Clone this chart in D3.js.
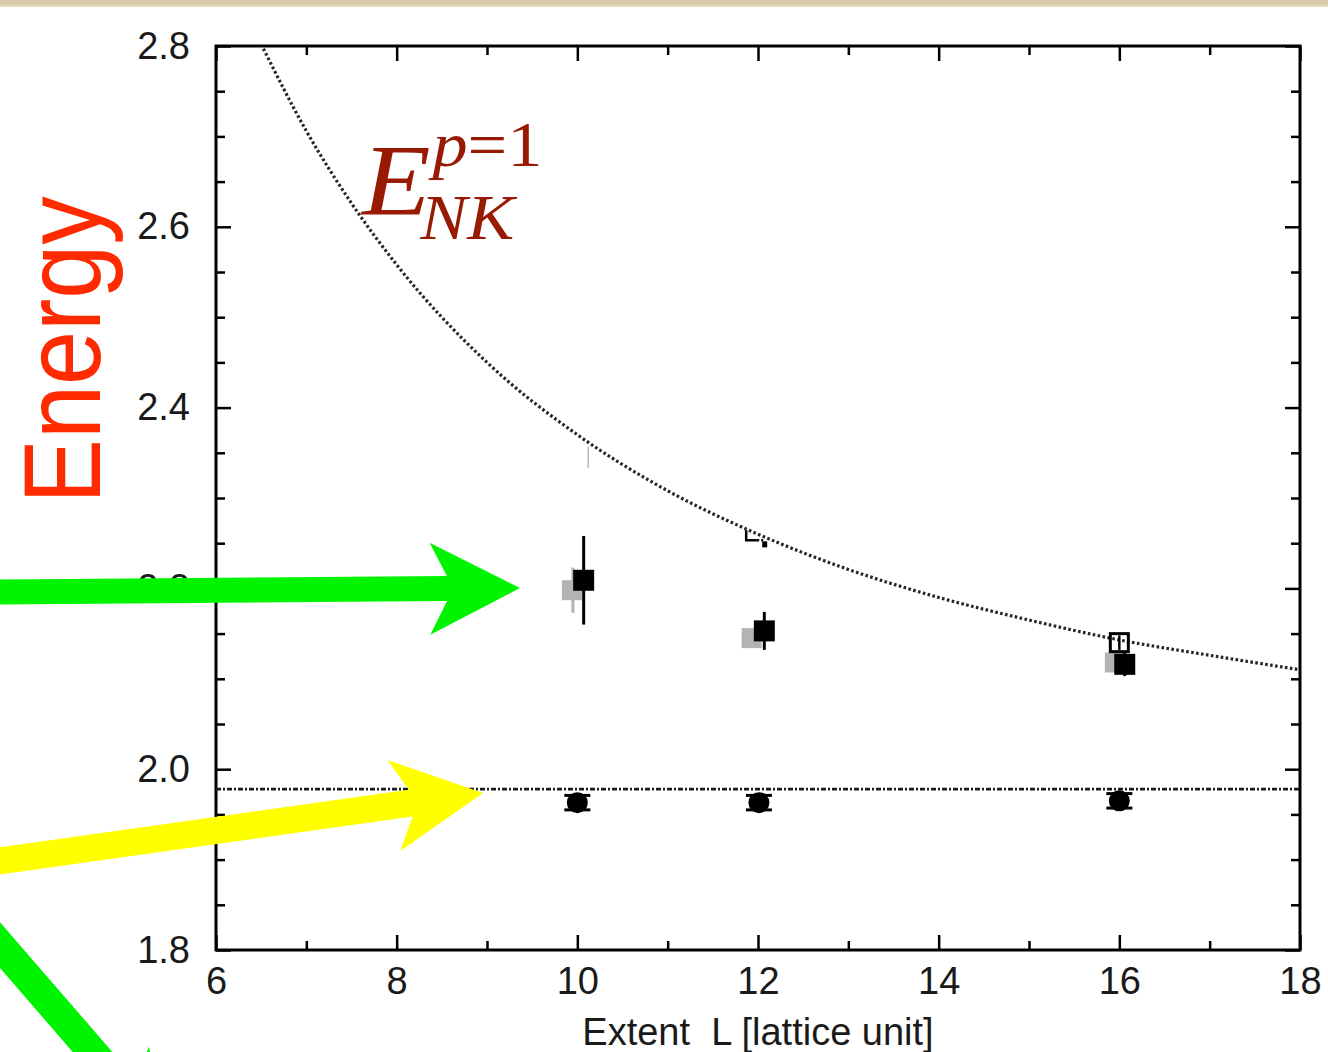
<!DOCTYPE html>
<html>
<head>
<meta charset="utf-8">
<script src="https://cdn.jsdelivr.net/npm/d3@7"></script>
<style>
  html, body { margin: 0; padding: 0; background: #ffffff; }
  svg { display: block; }
</style>
</head>
<body>
<svg id="chart" width="1328" height="1052"></svg>
<script>
// ---- data ----
const xMajorTicks = [6, 8, 10, 12, 14, 16, 18];
const xMinorTicks = [7, 9, 11, 13, 15, 17];
const yMajorTicks = [1.8, 2.0, 2.2, 2.4, 2.6, 2.8];
const yMinorTicks = [1.85, 1.9, 1.95, 2.05, 2.1, 2.15, 2.25, 2.3, 2.35, 2.45, 2.5, 2.55, 2.65, 2.7, 2.75];

// free N K energy at lowest nonzero momentum
const curveL = [6.5, 7, 7.5, 8, 9, 10, 11, 12, 13, 14, 15, 16, 17, 18];
const curveE = [2.802, 2.706, 2.626, 2.558, 2.450, 2.370, 2.308, 2.260, 2.221, 2.190, 2.165, 2.143, 2.126, 2.110];

// threshold (N + K at rest)
const thresholdE = 1.978;

// filled squares: excited level
const sqL = [10.07, 12.07, 16.06];
const sqE = [2.209, 2.153, 2.116];
const sqErr = [0.049, 0.021, 0.013];

// grey squares: second analysis of the same level
const gsqL = [9.94, 11.93, 15.95];
const gsqE = [2.198, 2.145, 2.118];
const gsqErr = [0.025, 0.010, 0.008];

// open squares
const osqL = [16.0];
const osqE = [2.140];
const osqErr = [0.008];

// filled circles: ground level
const ciL = [10.0, 12.01, 16.0];
const ciE = [1.963, 1.963, 1.965];
const ciErr = [0.008, 0.008, 0.008];

// stray fragments of hidden markers
const faintBarL = [10.12];
const faintBarE = [2.345];
const faintBarErr = [0.012];
const cornerL = [11.98];
const cornerE = [2.262];

// annotation arrows (tail and tip in data units)
const arrowTailL = [3.5, 3.5, 3.166];
const arrowTailE = [2.196, 1.897, 1.8565];
const arrowTipL = [9.365, 8.956, 5.524];
const arrowTipE = [2.2004, 1.9737, 1.5844];
const arrowColors = ["#00f400", "#ffff00", "#00f400"];
const arrowShaft = [25, 27, 30];

// ---- layout ----
const svg = d3.select("#chart");
const W = 1328, H = 1052;
const x = d3.scaleLinear().domain([6, 18]).range([216, 1300]);
const y = d3.scaleLinear().domain([1.8, 2.8]).range([950, 46]);

// top parchment strip
svg.append("rect").attr("x", 0).attr("y", 0).attr("width", W).attr("height", 7).attr("fill", "#d5c9a9");
svg.append("rect").attr("x", 0).attr("y", 5).attr("width", W).attr("height", 2).attr("fill", "#e6dcc4");

const tickFont = "'Liberation Sans', Arial, Helvetica, sans-serif";

function styleAxis(g) {
  g.select(".domain").remove();
  g.selectAll(".tick line").attr("stroke", "#000").attr("stroke-width", 2.5);
  g.selectAll(".tick text").attr("fill", "#1a1a1a").style("font-family", tickFont).style("font-size", "38px");
}

// bottom axis
svg.append("g").attr("transform", `translate(0,${y(1.8)})`)
  .call(d3.axisBottom(x).tickValues(xMajorTicks).tickSize(-15).tickPadding(17).tickFormat(d3.format("d")))
  .call(styleAxis);
svg.append("g").attr("transform", `translate(0,${y(1.8)})`)
  .call(d3.axisBottom(x).tickValues(xMinorTicks).tickSize(-9).tickFormat(""))
  .call(styleAxis);
// top axis
svg.append("g").attr("transform", `translate(0,${y(2.8)})`)
  .call(d3.axisTop(x).tickValues(xMajorTicks).tickSize(-15).tickFormat(""))
  .call(styleAxis);
svg.append("g").attr("transform", `translate(0,${y(2.8)})`)
  .call(d3.axisTop(x).tickValues(xMinorTicks).tickSize(-9).tickFormat(""))
  .call(styleAxis);
// left axis
svg.append("g").attr("transform", `translate(${x(6)},0)`)
  .call(d3.axisLeft(y).tickValues(yMajorTicks).tickSize(-15).tickPadding(26).tickFormat(d3.format(".1f")))
  .call(styleAxis);
svg.append("g").attr("transform", `translate(${x(6)},0)`)
  .call(d3.axisLeft(y).tickValues(yMinorTicks).tickSize(-9).tickFormat(""))
  .call(styleAxis);
// right axis
svg.append("g").attr("transform", `translate(${x(18)},0)`)
  .call(d3.axisRight(y).tickValues(yMajorTicks).tickSize(-15).tickFormat(""))
  .call(styleAxis);
svg.append("g").attr("transform", `translate(${x(18)},0)`)
  .call(d3.axisRight(y).tickValues(yMinorTicks).tickSize(-9).tickFormat(""))
  .call(styleAxis);

// frame
svg.append("rect").attr("x", x(6)).attr("y", y(2.8)).attr("width", x(18) - x(6)).attr("height", y(1.8) - y(2.8))
  .attr("fill", "none").attr("stroke", "#000").attr("stroke-width", 3);

// x axis title
svg.append("text").attr("x", 758).attr("y", 1045).attr("text-anchor", "middle")
  .style("white-space", "pre").attr("xml:space", "preserve")
  .style("font-family", tickFont).style("font-size", "38px").attr("fill", "#1a1a1a")
  .text("Extent  L [lattice unit]");

// clip for curves
svg.append("clipPath").attr("id", "plotclip").append("rect")
  .attr("x", x(6)).attr("y", y(2.8)).attr("width", x(18) - x(6)).attr("height", y(1.8) - y(2.8));

const plot = svg.append("g").attr("clip-path", "url(#plotclip)");

// dotted free-energy curve
const curvePts = curveL.map((L, i) => [L, curveE[i]]);
plot.append("path").datum(curvePts)
  .attr("d", d3.line().x(d => x(d[0])).y(d => y(d[1])).curve(d3.curveMonotoneX))
  .attr("fill", "none").attr("stroke", "#262626").attr("stroke-width", 3.2).attr("stroke-dasharray", "2.6,2.4");

// threshold line
plot.append("line").attr("x1", x(6)).attr("x2", x(18)).attr("y1", y(thresholdE)).attr("y2", y(thresholdE))
  .attr("stroke", "#1a1a1a").attr("stroke-width", 2.8).attr("stroke-dasharray", "5,2,2,2");

// faint grey bar
plot.selectAll(".faint").data(faintBarL).join("line")
  .attr("x1", (d) => x(d)).attr("x2", (d) => x(d))
  .attr("y1", (d, i) => y(faintBarE[i] + faintBarErr[i])).attr("y2", (d, i) => y(faintBarE[i] - faintBarErr[i]))
  .attr("stroke", "#aaa").attr("stroke-width", 1.2);

// partial corner fragment
plot.selectAll(".corner").data(cornerL).join("g")
  .attr("transform", (d, i) => `translate(${x(d)},${y(cornerE[i])})`)
  .each(function () {
    const g = d3.select(this);
    g.append("path").attr("d", "M-10,-2 V8 H0").attr("fill", "none").attr("stroke", "#000").attr("stroke-width", 2.5);
    g.append("rect").attr("x", 6).attr("y", 9).attr("width", 5).attr("height", 6).attr("fill", "#000");
    g.append("line").attr("x1", 0).attr("x2", 7).attr("y1", 8).attr("y2", 8).attr("stroke", "#000").attr("stroke-width", 2.5).attr("stroke-dasharray", "3,2");
  });

// grey squares
const gs = 20;
plot.selectAll(".gerr").data(gsqL).join("line")
  .attr("x1", d => x(d) + 1).attr("x2", d => x(d) + 1)
  .attr("y1", (d, i) => y(gsqE[i] + gsqErr[i])).attr("y2", (d, i) => y(gsqE[i] - gsqErr[i]))
  .attr("stroke", "#b3b3b3").attr("stroke-width", 3);
plot.selectAll(".gsq").data(gsqL).join("rect")
  .attr("x", d => x(d) - gs / 2).attr("y", (d, i) => y(gsqE[i]) - gs / 2)
  .attr("width", gs).attr("height", gs).attr("fill", "#b3b3b3");

// open squares
plot.selectAll(".oerr").data(osqL).join("line")
  .attr("x1", d => x(d)).attr("x2", d => x(d))
  .attr("y1", (d, i) => y(osqE[i] + osqErr[i])).attr("y2", (d, i) => y(osqE[i] - osqErr[i]))
  .attr("stroke", "#000").attr("stroke-width", 2.5);
plot.selectAll(".osq").data(osqL).join("rect")
  .attr("x", d => x(d) - 9).attr("y", (d, i) => y(osqE[i]) - 9)
  .attr("width", 18).attr("height", 18).attr("fill", "none").attr("stroke", "#000").attr("stroke-width", 3);

// filled squares
const bs = 21;
plot.selectAll(".berr").data(sqL).join("line")
  .attr("x1", d => x(d)).attr("x2", d => x(d))
  .attr("y1", (d, i) => y(sqE[i] + sqErr[i])).attr("y2", (d, i) => y(sqE[i] - sqErr[i]))
  .attr("stroke", "#000").attr("stroke-width", 3);
plot.selectAll(".bsq").data(sqL).join("rect")
  .attr("x", d => x(d) - bs / 2).attr("y", (d, i) => y(sqE[i]) - bs / 2)
  .attr("width", bs).attr("height", bs).attr("fill", "#000");

// filled circles with capped bars
const ciG = plot.selectAll(".ci").data(ciL).join("g")
  .attr("transform", (d, i) => `translate(${x(d)},${y(ciE[i])})`);
ciG.append("circle").attr("r", 10.5).attr("fill", "#000");
ciG.each(function (d, i) {
  const g = d3.select(this);
  const up = y(ciE[i] + ciErr[i]) - y(ciE[i]);
  const dn = y(ciE[i] - ciErr[i]) - y(ciE[i]);
  g.append("line").attr("x1", 0).attr("x2", 0).attr("y1", up).attr("y2", dn).attr("stroke", "#000").attr("stroke-width", 3);
  g.append("line").attr("x1", -13).attr("x2", 13).attr("y1", up).attr("y2", up).attr("stroke", "#000").attr("stroke-width", 3);
  g.append("line").attr("x1", -13).attr("x2", 13).attr("y1", dn).attr("y2", dn).attr("stroke", "#000").attr("stroke-width", 3);
});

// E_NK^{p=1} label
const labG = svg.append("g").attr("transform", "translate(362,0) scale(1.1,1)");
const serif = "'Liberation Serif', 'Times New Roman', serif";
labG.append("text").attr("x", 0).attr("y", 215).style("font-family", serif).attr("fill", "#981a02")
  .style("font-style", "italic").style("font-size", "102px").text("E");
const sup = labG.append("text").attr("x", 64).attr("y", 166).style("font-family", serif).attr("fill", "#981a02")
  .style("font-size", "64px");
sup.append("tspan").style("font-style", "italic").text("p");
sup.append("tspan").text("=1");
labG.append("text").attr("x", 53).attr("y", 239).style("font-family", serif).attr("fill", "#981a02")
  .style("font-style", "italic").style("font-size", "64px").text("NK");

// y axis title
svg.append("text").attr("transform", "translate(100,350) rotate(-90) scale(1,1.13)").attr("text-anchor", "middle")
  .style("font-family", tickFont).style("font-size", "97px").attr("fill", "#ff2a00").text("Energy");

// annotation arrows, placed through the scales
function arrowPath(x0, y0, x1, y1, shaft, headLen, headHalf, notch) {
  const dx = x1 - x0, dy = y1 - y0, len = Math.hypot(dx, dy);
  const ux = dx / len, uy = dy / len, px = -uy, py = ux;
  const bx = x1 - ux * headLen, by = y1 - uy * headLen;
  const jx = x1 - ux * (headLen - notch), jy = y1 - uy * (headLen - notch);
  const s = shaft / 2;
  const pts = [
    [x0 + px * s, y0 + py * s],
    [jx + px * s, jy + py * s],
    [bx + px * headHalf, by + py * headHalf],
    [x1, y1],
    [bx - px * headHalf, by - py * headHalf],
    [jx - px * s, jy - py * s],
    [x0 - px * s, y0 - py * s]
  ];
  return "M" + pts.map(p => p.join(",")).join("L") + "Z";
}
svg.selectAll(".arrow").data(arrowTipL).join("path")
  .attr("class", "arrow")
  .attr("d", (d, i) => arrowPath(x(arrowTailL[i]), y(arrowTailE[i]), x(d), y(arrowTipE[i]), arrowShaft[i], 90, 46, 17))
  .attr("fill", (d, i) => arrowColors[i]);
</script>
</body>
</html>
